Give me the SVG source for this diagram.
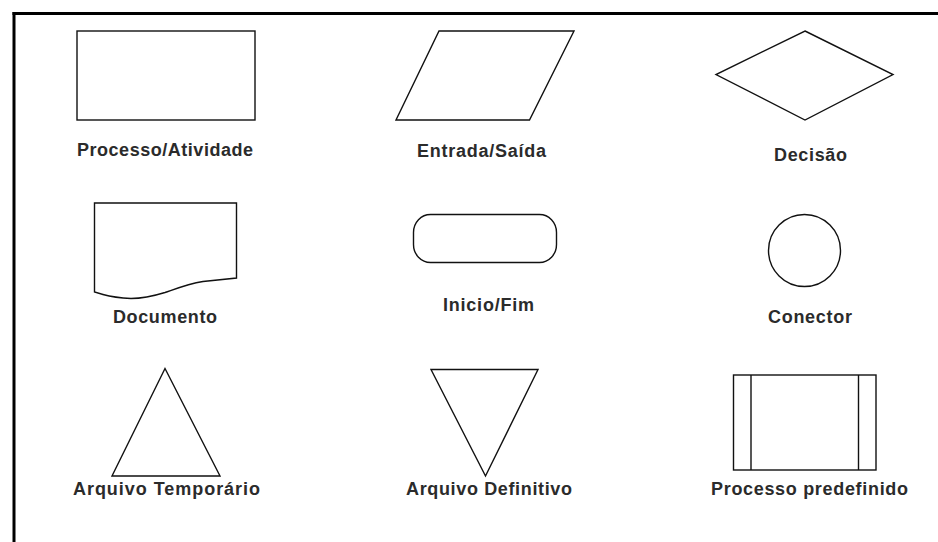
<svg xmlns="http://www.w3.org/2000/svg" width="938" height="542" viewBox="0 0 938 542">
<style>
.s{fill:none;stroke:#111;stroke-width:1.4;stroke-linejoin:miter}
.t{font-family:"Liberation Sans",Arial,sans-serif;font-size:18px;font-weight:bold;fill:#2b2b2b}
.b{stroke:#000;stroke-width:3;fill:none}
</style>
<rect width="938" height="542" fill="#fff"/>
<g id="frame">
<line class="b" x1="12.5" y1="13.5" x2="938" y2="13.5"/>
<line class="b" x1="14" y1="12" x2="14" y2="542"/>
</g>
<g id="connectors"/>
<g id="processo">
<rect class="s" x="77" y="31" width="178" height="89"/>
<text class="t" x="77" y="156" textLength="176" lengthAdjust="spacing">Processo/Atividade</text>
</g>
<g id="entrada">
<polygon class="s" points="439,31 574,31 529.5,120 396,120"/>
<text class="t" x="417" y="157" textLength="129" lengthAdjust="spacing">Entrada/Saída</text>
</g>
<g id="decisao">
<polygon class="s" points="805,31 893,74.5 805,120 716,74.5"/>
<text class="t" x="774" y="161" textLength="73" lengthAdjust="spacing">Decisão</text>
</g>
<g id="documento">
<path class="s" d="M94.5,292 L94.5,203 L236.5,203 L236.5,278 L203,281.5 C188,284 178,288 165,292.5 C152,296.5 142,298.5 131,298.5 C120,298 112,297 103,294.5 Z"/>
<text class="t" x="113" y="323" textLength="104" lengthAdjust="spacing">Documento</text>
</g>
<g id="inicio">
<rect class="s" x="413.5" y="214.5" width="143" height="48" rx="17" ry="18"/>
<text class="t" x="443" y="311" textLength="91" lengthAdjust="spacing">Inicio/Fim</text>
</g>
<g id="conector">
<circle class="s" cx="804.5" cy="250.5" r="36"/>
<text class="t" x="768" y="322.5" textLength="84" lengthAdjust="spacing">Conector</text>
</g>
<g id="temporario">
<polygon class="s" points="165,368.5 220,476 112,476"/>
<text class="t" x="73" y="494.5" textLength="187" lengthAdjust="spacing">Arquivo Temporário</text>
</g>
<g id="definitivo">
<polygon class="s" points="431,369.5 538,369.5 485.5,476"/>
<text class="t" x="406" y="494.5" textLength="166" lengthAdjust="spacing">Arquivo Definitivo</text>
</g>
<g id="predefinido">
<rect class="s" x="733.5" y="375" width="142.5" height="95"/>
<line class="s" x1="751" y1="375" x2="751" y2="470"/>
<line class="s" x1="858.5" y1="375" x2="858.5" y2="470"/>
<text class="t" x="711" y="494.5" textLength="197" lengthAdjust="spacing">Processo predefinido</text>
</g>
</svg>
